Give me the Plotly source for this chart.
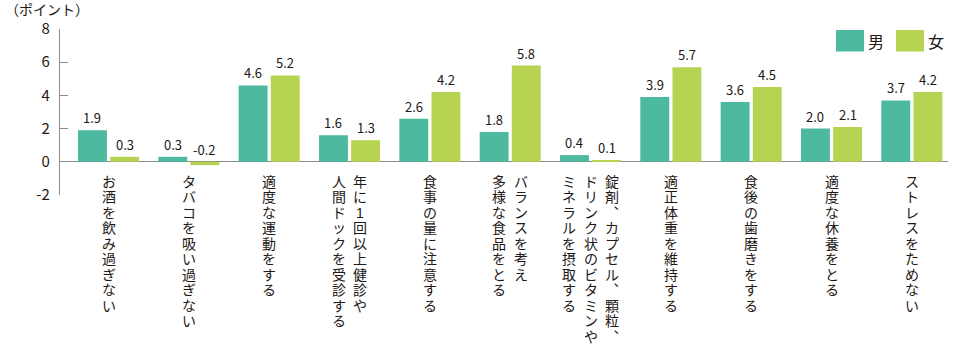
import plotly.graph_objects as go

# --- data -------------------------------------------------------------
categories = [
    ["お酒を飲み過ぎない"],
    ["タバコを吸い過ぎない"],
    ["適度な運動をする"],
    ["年に1回以上健診や", "人間ドックを受診する"],
    ["食事の量に注意する"],
    ["バランスを考え", "多様な食品をとる"],
    ["錠剤︑カプセル︑顆粒︑", "ドリンク状のビタミンや", "ミネラルを摂取する"],
    ["適正体重を維持する"],
    ["食後の歯磨きをする"],
    ["適度な休養をとる"],
    ["ストレスをためない"],
]
men = [1.9, 0.3, 4.6, 1.6, 2.6, 1.8, 0.4, 3.9, 3.6, 2.0, 3.7]
women = [0.3, -0.2, 5.2, 1.3, 4.2, 5.8, 0.1, 5.7, 4.5, 2.1, 4.2]
series_names = ["男", "女"]
y_ticks = [-2, 0, 2, 4, 6, 8]
unit_label = "（ポイント）"

# --- styling ----------------------------------------------------------
C_MEN = "#4db99e"
C_WOMEN = "#b6d452"
TEXT = "#231815"
AXIS = "#8c8c8c"
FONT = "Noto Sans CJK JP"
# compact line metrics for the stacked vertical characters; CJK glyphs fall back to Noto
FONT_VERT = "Liberation Sans, Noto Sans CJK JP"

W, H = 960, 346
ML, MR, MT, MB = 60, 12, 29, 151
X_RANGE = [-0.604, 10.45]
Y_RANGE = [-2, 8]

BAR_W = 0.36
OFFSETS = [-0.38, 0.02]

x = list(range(len(categories)))

fig = go.Figure()
for vals, color, name, off in zip([men, women], [C_MEN, C_WOMEN], series_names, OFFSETS):
    fig.add_trace(go.Bar(
        x=x, y=vals, name=name, width=BAR_W, offset=off,
        marker=dict(color=color, line=dict(width=0)),
        showlegend=False,
    ))

annotations = []

# value labels above each bar (negative values labelled above the zero line)
for vals, off in zip([men, women], OFFSETS):
    for i, v in enumerate(vals):
        annotations.append(dict(
            x=i + off + BAR_W / 2, y=max(v, 0), xref="x", yref="y",
            text=f"{v:.1f}", showarrow=False, yanchor="bottom", yshift=1,
            font=dict(family=FONT, size=13, color=TEXT),
        ))

# vertical category labels: one character per annotation, columns right to left
CHAR_PITCH = 15.5
COL_PITCH = 21.5
for i, cols in enumerate(categories):
    n = len(cols)
    for j, line in enumerate(cols):
        xs = (n - 1) / 2 * COL_PITCH - j * COL_PITCH
        for k, ch in enumerate(line):
            annotations.append(dict(
                x=i, y=0, xref="x", yref="y",
                text=ch, showarrow=False, xanchor="center", yanchor="middle",
                xshift=xs, yshift=-(20 + CHAR_PITCH * k),
                width=16, height=CHAR_PITCH, borderpad=0,
                font=dict(family=FONT_VERT, size=14, color=TEXT),
            ))


def px_to_paper_x(px):
    return (px - ML) / (W - ML - MR)


def px_to_paper_y(py):
    return (H - MB - py) / (H - MT - MB)


# unit label
annotations.append(dict(
    x=px_to_paper_x(4), y=px_to_paper_y(10), xref="paper", yref="paper",
    text=unit_label, showarrow=False, xanchor="left", yanchor="middle",
    borderpad=0, font=dict(family=FONT_VERT, size=14, color=TEXT),
))

# hand-drawn legend in the top-right corner
shapes = []
legend_items = [(C_MEN, 836, series_names[0]), (C_WOMEN, 896, series_names[1])]
for color, left, name in legend_items:
    shapes.append(dict(
        type="rect", xref="paper", yref="paper",
        x0=px_to_paper_x(left), x1=px_to_paper_x(left + 28),
        y0=px_to_paper_y(51.5), y1=px_to_paper_y(30),
        fillcolor=color, line=dict(width=0),
    ))
    annotations.append(dict(
        x=px_to_paper_x(left + 30), y=px_to_paper_y(41), xref="paper", yref="paper",
        text=name, showarrow=False, xanchor="left", yanchor="middle",
        font=dict(family=FONT, size=16, color=TEXT),
    ))

fig.update_layout(
    width=W, height=H,
    margin=dict(l=ML, r=MR, t=MT, b=MB, pad=0),
    paper_bgcolor="white", plot_bgcolor="white",
    barmode="overlay",
    font=dict(family=FONT, color=TEXT),
    annotations=annotations,
    shapes=shapes,
    xaxis=dict(
        range=X_RANGE, showticklabels=False, showgrid=False, zeroline=False,
        showline=False, ticks="", fixedrange=True,
    ),
    yaxis=dict(
        range=Y_RANGE, tickvals=y_ticks, ticktext=[str(t) for t in y_ticks],
        showgrid=False, zeroline=True, zerolinecolor=AXIS, zerolinewidth=1.3,
        showline=True, linecolor=AXIS, linewidth=1.3,
        ticks="inside", ticklen=8, tickcolor=AXIS, tickwidth=1.3,
        tickfont=dict(family=FONT, size=15, color=TEXT), ticklabelstandoff=6,
    ),
)

fig.write_html("out.html")
